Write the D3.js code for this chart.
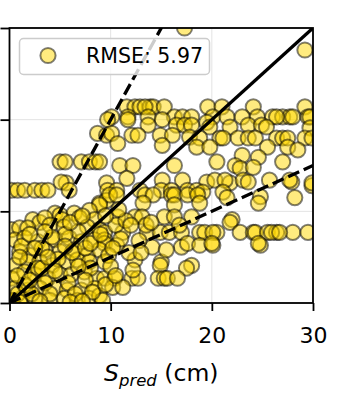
<!DOCTYPE html>
<html>
<head>
<meta charset="utf-8">
<script src="https://cdn.jsdelivr.net/npm/d3@7"></script>
<style>
  html, body { margin: 0; padding: 0; background: #fff; }
  svg { display: block; font-family: "DejaVu Sans", sans-serif; }
</style>
</head>
<body>
<svg id="chart" width="346" height="407"></svg>
<script>
// ---- data ----
const xTicks = [0, 10, 20, 30];
const yTicks = [0, 10, 20, 30];
const refSlopes = [1, 2, 0.5];            // 1:1 line, and the two dashed bounds
const refDashed = [false, true, true];
const legendLabel = "RMSE: 5.97";
const xLabelMain = "S", xLabelSub = "pred", xLabelUnit = " (cm)";

// predicted (x) and observed (y), same order
const sPred = [
  17.3, 29.2,
  11.6, 12.4, 12.9, 13.9, 14.2, 15.3, 19.6, 21.0, 24.1, 29.2, 13.4,
  10.1, 11.7, 13.7, 16.3, 17.1, 18.0, 20.1, 21.5, 23.0, 24.5, 26.0, 27.0, 27.7, 28.0, 29.5, 29.7, 26.4,
  9.7, 15.1, 11.7, 19.5,
  13.7, 16.5, 17.3, 18.0, 23.6, 24.9,
  19.8, 21.8, 25.4, 29.7,
  8.7, 9.6, 10.1, 12.1, 12.7, 14.9, 16.1, 17.8, 18.8,
  20.8, 21.1, 22.6, 23.6, 24.3, 26.4, 27.0, 27.5, 29.2, 29.9,
  10.7, 15.1, 18.5, 19.8, 25.5, 27.5, 28.5,
  23.0, 24.6, 20.5, 27.0, 22.3, 22.8, 24.1, 29.9,
  5.0, 5.5, 7.1, 7.9, 8.5, 8.9, 10.9, 12.2, 16.3,
  11.6, 15.1, 17.1, 19.5, 20.3, 21.8, 23.1, 23.6, 25.7, 27.9, 29.9, 5.6, 5.1, 9.6, 21.3, 27.7,
  0.2, 0.8, 1.5, 2.5, 3.2, 3.8, 9.7, 10.6, 12.9, 15.0, 16.0, 17.6, 18.5, 5.9,
  19.1, 21.1, 21.5, 24.8, 28.2, 24.6, 8.9, 9.6,
  9.9, 10.6, 13.4, 14.2, 16.0, 16.3, 17.6, 18.6,
  8.9, 13.2, 16.3, 18.8,
  10.7, 12.4, 13.1, 15.3, 16.3, 18.0,
  4.5, 5.0, 6.4, 7.9, 2.3, 3.0, 3.5, 5.2, 6.9, 8.4, 22.0, 21.8,
  0.2, 1.0, 1.8, 4.0, 5.4, 7.7, 8.9,
  9.4, 11.2, 13.6, 14.9, 15.8, 17.0, 18.8, 19.3, 20.5, 22.8, 24.1, 24.3, 25.5, 26.4, 28.0, 29.5, 20.1, 25.9, 26.7,
  0.5, 1.5, 2.8, 4.5, 5.9, 7.1, 8.4, 9.4,
  9.4, 10.6, 14.1, 17.0, 17.6, 18.8, 20.1, 24.8, 20.0, 24.6,
  1.0, 2.0, 3.5, 5.0, 6.4, 7.7, 8.9,
  0.5, 1.8, 3.0, 4.2, 5.7, 6.7, 7.9, 9.4,
  12.4, 15.0, 14.9, 18.0, 17.5,
  0.2, 1.5, 2.5, 3.8, 5.0, 6.1, 7.4, 8.6,
  9.4, 10.4, 12.1, 12.7, 14.7, 15.3, 15.6, 16.6, 12.2,
  0.5, 1.8, 3.0, 4.5, 5.7, 7.1, 8.4, 10.2, 11.2,
  0.2, 1.2, 2.5, 4.0, 5.4, 6.7, 7.9, 8.9, 9.2,
  0.3, 0.8, 1.5, 2.2, 3.5, 2.8, 4.8, 6.2, 3.2, 1.2, 6.8, 7.5, 5.5, 2.0, 4.2, 8.0, 9.8, 10.5, 11.5, 10.0,
  11.8, 12.8, 13.5, 11.0, 12.0, 14.0, 16.8, 13.0, 15.5,
  0.8, 2.0, 3.2, 4.5, 5.8, 6.5, 7.5, 8.2, 9.5, 10.5, 1.0, 2.5, 3.8, 5.5, 6.8, 8.0, 9.0, 10.2,
  3.5, 6.0, 7.2, 9.5, 10.8, 4.0, 3.0, 6.0, 7.2, 1.0
];
const sObs = [
  30.0, 27.6,
  21.4, 21.4, 21.4, 21.4, 21.4, 21.4, 21.4, 21.4, 21.4, 21.4, 21.4,
  20.3, 20.3, 20.3, 20.3, 20.3, 20.3, 20.3, 20.3, 20.3, 20.3, 20.3, 20.3, 20.3, 20.3, 20.3, 20.3, 20.3,
  20.0, 20.0, 20.0, 19.7,
  19.4, 19.4, 19.4, 19.4, 19.4, 19.4,
  19.2, 19.2, 19.2, 19.1,
  18.5, 18.3, 18.5, 18.3, 18.3, 18.3, 18.3, 18.1, 18.0,
  18.0, 18.0, 18.0, 18.0, 18.0, 18.0, 18.0, 18.0, 18.0, 18.0,
  17.4, 17.2, 17.0, 17.0, 17.0, 17.0, 16.7,
  16.1, 15.9, 15.4, 15.4, 15.0, 14.7, 14.8, 12.8,
  15.4, 15.4, 15.4, 15.4, 15.4, 15.4, 15.0, 15.0, 15.0,
  13.6, 13.4, 13.4, 13.2, 13.4, 13.1, 13.4, 13.2, 13.4, 13.2, 13.1, 13.1, 13.2, 13.1, 13.4, 13.4,
  12.3, 12.3, 12.3, 12.3, 12.3, 12.3, 12.3, 12.3, 12.3, 12.3, 12.3, 12.3, 12.3, 12.3,
  12.1, 12.1, 11.5, 11.6, 11.5, 10.9, 10.9, 11.2,
  11.8, 11.8, 11.8, 11.8, 11.8, 11.8, 11.8, 11.8,
  10.7, 10.9, 10.7, 10.9,
  9.4, 9.4, 9.4, 9.4, 9.4, 9.4,
  9.8, 9.6, 9.8, 10.1, 9.1, 8.8, 9.3, 9.1, 9.3, 9.1, 9.1, 8.8,
  8.0, 8.2, 8.2, 8.5, 8.3, 8.3, 8.0,
  7.7, 7.7, 7.7, 7.7, 7.7, 7.7, 7.7, 7.7, 7.7, 7.7, 7.7, 7.7, 7.7, 7.7, 7.7, 7.7, 7.7, 7.7, 7.7,
  6.9, 7.1, 6.7, 6.9, 7.1, 6.7, 6.9, 6.9,
  6.5, 6.3, 6.1, 6.1, 6.5, 6.3, 6.3, 6.3, 6.5, 6.5,
  5.6, 5.2, 5.8, 5.6, 5.8, 5.2, 5.8,
  4.1, 4.5, 4.5, 4.1, 4.5, 4.7, 4.5, 4.5,
  4.7, 4.5, 4.1, 4.1, 3.8,
  2.7, 3.4, 3.1, 2.7, 3.1, 3.1, 3.4, 2.7,
  2.7, 2.7, 2.7, 2.7, 2.7, 2.7, 2.7, 2.7, 3.6,
  1.6, 1.4, 1.6, 1.6, 1.4, 1.4, 1.6, 1.7, 1.7,
  0.3, 0.5, 0.5, 0.3, 0.5, 0.3, 0.5, 0.8, 0.3,
  0.2, 1.0, 2.0, 1.0, 2.2, 3.8, 4.8, 5.5, 6.0, 6.2, 7.8, 6.0, 7.5, 7.5, 7.2, 3.8, 5.2, 8.5, 9.0, 4.0,
  5.5, 6.8, 8.5, 7.0, 8.5, 8.8, 8.5, 5.5, 5.8,
  3.0, 2.5, 3.8, 3.5, 2.2, 1.0, 2.5, 1.2, 2.0, 3.0, 5.0, 6.0, 5.0, 6.2, 4.0, 6.5, 7.5, 6.0,
  7.8, 8.8, 9.5, 9.5, 10.2, 1.0, 0.2, 0.1, 0.2, 0.1
];

// ---- layout ----
const L = 9.5, R = 313, T = 28, B = 303;
const svg = d3.select("#chart");
const x = d3.scaleLinear().domain([0, 30]).range([L, R]);
const y = d3.scaleLinear().domain([0, 30]).range([B, T]);

svg.append("defs").append("clipPath").attr("id", "plotClip")
  .append("rect").attr("x", L).attr("y", T).attr("width", R - L).attr("height", B - T);

// grid
const grid = svg.append("g");
grid.selectAll(".gx").data(xTicks).join("line")
  .attr("x1", d => x(d)).attr("x2", d => x(d)).attr("y1", T).attr("y2", B)
  .attr("stroke", "#e3e3e3").attr("stroke-width", 1);
grid.selectAll(".gy").data(yTicks).join("line")
  .attr("y1", d => y(d)).attr("y2", d => y(d)).attr("x1", L).attr("x2", R)
  .attr("stroke", "#e3e3e3").attr("stroke-width", 1);

// points
const pts = d3.range(Math.min(sPred.length, sObs.length)).map(i => ({ p: sPred[i], o: sObs[i] }));
svg.append("g").attr("clip-path", "url(#plotClip)")
  .selectAll("circle").data(pts).join("circle")
  .attr("cx", d => x(d.p)).attr("cy", d => y(d.o)).attr("r", 7.6)
  .attr("fill", "#FFD700").attr("fill-opacity", 0.5)
  .attr("stroke", "#000").attr("stroke-opacity", 0.5).attr("stroke-width", 2);

// reference lines
const lineGen = d3.line().x(d => x(d[0])).y(d => y(d[1]));
const lg = svg.append("g").attr("clip-path", "url(#plotClip)");
refSlopes.forEach((s, i) => {
  const dom = x.domain();
  lg.append("path")
    .attr("d", lineGen([[dom[0], dom[0] * s], [dom[1], dom[1] * s]]))
    .attr("fill", "none").attr("stroke", "#000").attr("stroke-width", 3.3)
    .attr("stroke-dasharray", refDashed[i] ? "12,5" : null);
});

// axes
const xAxis = svg.append("g").attr("transform", `translate(0,${B})`)
  .call(d3.axisBottom(x).tickValues(xTicks).tickSize(8).tickFormat(d3.format("d")));
xAxis.select(".domain").remove();
xAxis.selectAll("line").attr("stroke", "#000").attr("stroke-width", 1.8);
xAxis.selectAll("text").attr("dy", null).attr("y", 40)
  .attr("font-size", 22).attr("font-family", "DejaVu Sans").attr("fill", "#000");

const yAxis = svg.append("g").attr("transform", `translate(${L},0)`)
  .call(d3.axisLeft(y).tickValues(yTicks).tickSize(9).tickFormat(""));
yAxis.select(".domain").remove();
yAxis.selectAll("line").attr("stroke", "#000").attr("stroke-width", 1.8);

// frame
svg.append("rect").attr("x", L).attr("y", T).attr("width", R - L).attr("height", B - T)
  .attr("fill", "none").attr("stroke", "#000").attr("stroke-width", 1.8);

// x label
const xl = svg.append("text").attr("x", (L + R) / 2).attr("y", 381)
  .attr("text-anchor", "middle").attr("font-size", 23.5).attr("fill", "#000");
xl.append("tspan").attr("font-style", "italic").text(xLabelMain);
xl.append("tspan").attr("font-style", "italic").attr("font-size", 16.5).attr("dy", 5).text(xLabelSub);
xl.append("tspan").attr("dy", -5).text(xLabelUnit);

// legend
const leg = svg.append("g");
leg.append("rect").attr("x", 19.5).attr("y", 38.5).attr("width", 190).attr("height", 36).attr("rx", 4)
  .attr("fill", "#fff").attr("fill-opacity", 0.8).attr("stroke", "#cccccc").attr("stroke-width", 1.5);
leg.append("circle").attr("cx", 48).attr("cy", 55.5).attr("r", 7.6)
  .attr("fill", "#FFD700").attr("fill-opacity", 0.5)
  .attr("stroke", "#000").attr("stroke-opacity", 0.5).attr("stroke-width", 2);
leg.append("text").attr("x", 86).attr("y", 63).attr("font-size", 20.5).attr("fill", "#000").text(legendLabel);
</script>
</body>
</html>
